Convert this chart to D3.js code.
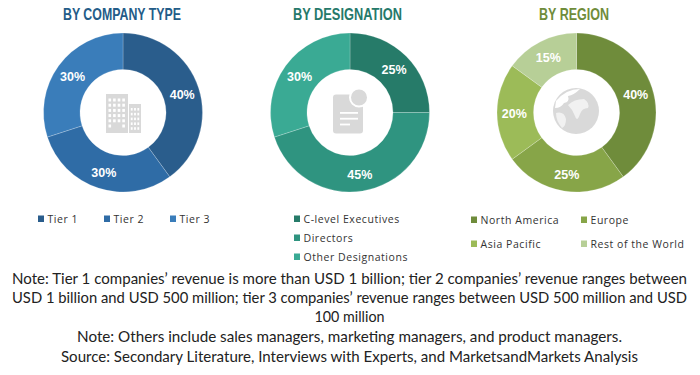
<!DOCTYPE html>
<html><head><meta charset="utf-8">
<script src="https://cdn.jsdelivr.net/npm/d3@7/dist/d3.min.js"></script>
<style>html,body{margin:0;padding:0;background:#fff}svg{display:block}</style>
</head><body><svg id="c" width="700" height="375"></svg>
<script>
const titles = ["BY COMPANY TYPE", "BY DESIGNATION", "BY REGION"];
const companyLabels = ["Tier 1", "Tier 2", "Tier 3"];
const companyValues = [40, 30, 30];
const companyColors = ["#2a5d8c", "#2f6ca6", "#3a7dba"];
const designationLabels = ["C-level Executives", "Directors", "Other Designations"];
const designationValues = [25, 45, 30];
const designationColors = ["#267b69", "#2f9480", "#3aaa94"];
const regionLabels = ["North America", "Europe", "Asia Pacific", "Rest of the World"];
const regionValues = [40, 25, 20, 15];
const regionColors = ["#6f8c3b", "#87a548", "#9cbb58", "#b7cf97"];
const titleColors = ["#235c88", "#25796a", "#6f8c3b"];
const notes = [
 "Note: Tier 1 companies\u2019 revenue is more than USD 1 billion; tier 2 companies\u2019 revenue ranges between",
 "USD 1 billion and USD 500 million; tier 3 companies\u2019 revenue ranges between USD 500 million and USD",
 "100 million",
 "Note: Others include sales managers, marketing managers, and product managers.",
 "Source: Secondary Literature, Interviews with Experts, and MarketsandMarkets Analysis"];

const svg = d3.select("#c");
const panels = [
 {cx:123, vals:companyValues, labs:companyLabels, cols:companyColors, tx:122, tw:118,
  leg:[[38,219],[104,219],[170,219]]},
 {cx:350, vals:designationValues, labs:designationLabels, cols:designationColors, tx:347.5, tw:109,
  leg:[[294,219],[294,238],[294,257]]},
 {cx:576.5, vals:regionValues, labs:regionLabels, cols:regionColors, tx:574, tw:70,
  leg:[[471,220],[581,220],[471,244],[581,244]]}
];
const cy = 112.5, rO = 79.5, rI = 43;
const pie = d3.pie().sort(null).value(d=>d);
const arc = d3.arc().innerRadius(rI).outerRadius(rO);
const labelArc = d3.arc().innerRadius((rI+rO)/2+1).outerRadius((rI+rO)/2+1);

panels.forEach((p,i)=>{
  svg.append("text").attr("x",p.tx).attr("y",20).attr("text-anchor","middle")
    .attr("font-family","'Liberation Sans',sans-serif").attr("font-weight",700)
    .attr("font-size",16.5).attr("textLength",p.tw).attr("lengthAdjust","spacingAndGlyphs")
    .attr("fill",titleColors[i]).text(titles[i]);
  const g = svg.append("g").attr("transform",`translate(${p.cx},${cy})`);
  const arcs = pie(p.vals);
  g.selectAll("path").data(arcs).join("path").attr("d",arc)
    .attr("fill",(d,j)=>p.cols[j]).attr("stroke","#ffffff").attr("stroke-opacity",.35).attr("stroke-width",.6);
  g.selectAll("text").data(arcs).join("text")
    .attr("transform",d=>`translate(${labelArc.centroid(d)})`)
    .attr("text-anchor","middle").attr("dy","0.42em")
    .attr("font-family","'Liberation Sans',sans-serif").attr("font-weight",700)
    .attr("font-size",12.5).attr("fill","#fff").text(d=>d.data+"%");
  const lg = svg.append("g");
  p.labs.forEach((t,j)=>{
    const [x,y]=p.leg[j];
    lg.append("rect").attr("x",x).attr("y",y-3.5).attr("width",6).attr("height",6.5).attr("fill",p.cols[j]);
    lg.append("text").attr("x",x+9.5).attr("y",y+4).attr("font-family","'Open Sans',sans-serif")
      .attr("font-size",10.5).attr("letter-spacing",0.55).attr("fill","#333").text(t);
  });
});

const note = svg.append("g");
const noteWidths = [675, 675, 70, 545, 577];
[284,303,322,342,362].forEach((y,i)=>{
  note.append("text").attr("x",349.5).attr("y",y).attr("text-anchor","middle")
   .attr("font-family","Lato,sans-serif").attr("font-size",15)
   .attr("textLength",noteWidths[i]).attr("lengthAdjust","spacingAndGlyphs")
   .attr("fill","#222").text(notes[i]);
});

/* decorative centre icons */
const ic="#d9d9d9";
const b = svg.append("g").attr("transform","translate(123,112.5)");
b.append("rect").attr("x",-17).attr("y",-18.5).attr("width",22).attr("height",39).attr("fill",ic);
b.append("rect").attr("x",6).attr("y",-8.5).attr("width",12).attr("height",29).attr("fill",ic);
for(let r=0;r<6;r++){for(let c=0;c<4;c++){
  if(r<5||c==0||c==3) b.append("rect").attr("x",-14.5+c*4.6).attr("y",-14+r*5.2).attr("width",2.6).attr("height",3).attr("fill","#fff");
}}
for(let r=0;r<5;r++){for(let c=0;c<3;c++){
  b.append("rect").attr("x",7.8+c*3.3).attr("y",-4.5+r*4.8).attr("width",1.8).attr("height",2.6).attr("fill","#fff");
}}
const d = svg.append("g").attr("transform","translate(350,112.5)");
d.append("rect").attr("x",-17).attr("y",-18).attr("width",30).attr("height",39).attr("rx",3).attr("fill",ic);
d.append("circle").attr("cx",9).attr("cy",-15).attr("r",9).attr("fill",ic).attr("stroke","#fff").attr("stroke-width",2);
[0,1,2].forEach(k=>{
  d.append("rect").attr("x",-10).attr("y",-0.5+k*5.8).attr("width",k==2?10:18).attr("height",1.8).attr("fill","#fff");
});
const w = svg.append("g").attr("transform","translate(576,111)");
w.append("circle").attr("r",23).attr("fill",ic);
w.append("path").attr("d","M-20,-10 Q-10,-22 4,-22 Q-2,-16 -8,-15 Q-6,-9 -12,-8 Q-15,-3 -21,-3Z").attr("fill","#fff");
w.append("path").attr("d","M-8,-6 Q-2,-12 8,-12 Q14,-8 12,-3 Q6,-3 4,3 Q1,12 -1,5 Q-3,-1 -8,-6Z").attr("fill","#f1f1f1");
w.append("path").attr("d","M-20,2 Q-12,0 -10,8 Q-10,15 -14,17 Q-20,10 -20,2Z").attr("fill","#f1f1f1");
</script></body></html>
